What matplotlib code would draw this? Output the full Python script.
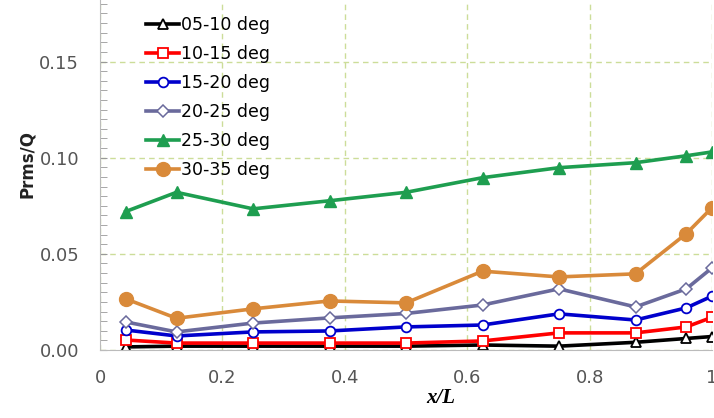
import numpy as np
import matplotlib.pyplot as plt
from matplotlib.ticker import MultipleLocator

# Posisi x/L
x = np.array([0.042, 0.125, 0.25, 0.375, 0.5, 0.625, 0.75, 0.875, 0.958, 1.0])

# Prms/Q tiap rentang sudut
p_05_10 = [0.0016, 0.0020, 0.0020, 0.0020, 0.0020, 0.0026, 0.0020, 0.0040, 0.0060, 0.0070]
p_10_15 = [0.0052, 0.0036, 0.0036, 0.0036, 0.0036, 0.0047, 0.0089, 0.0089, 0.0120, 0.0170]
p_15_20 = [0.0104, 0.0073, 0.0094, 0.0099, 0.0120, 0.0130, 0.0188, 0.0156, 0.0219, 0.0280]
p_20_25 = [0.0146, 0.0094, 0.0140, 0.0167, 0.0190, 0.0234, 0.0318, 0.0224, 0.0318, 0.0427]
p_25_30 = [0.0720, 0.0820, 0.0734, 0.0776, 0.0820, 0.0896, 0.0948, 0.0974, 0.1010, 0.1030]
p_30_35 = [0.0266, 0.0165, 0.0214, 0.0255, 0.0245, 0.0410, 0.0380, 0.0396, 0.0605, 0.0740]

labels = ['05-10 deg', '10-15 deg', '15-20 deg', '20-25 deg', '25-30 deg', '30-35 deg']

fig = plt.figure(figsize=(7.14, 4.18), dpi=100)
ax = fig.add_axes([100 / 714, 1 - 350 / 418, 612 / 714, 350 / 418])

lw = 2.6
ax.plot(x, p_05_10, '-^', color='black', lw=lw, ms=7, mfc='white', mew=1.3, label=labels[0])
ax.plot(x, p_10_15, '-s', color='#FF0000', lw=lw, ms=7, mfc='white', mew=1.3, label=labels[1])
ax.plot(x, p_15_20, '-o', color='#0000CC', lw=lw, ms=7, mfc='white', mew=1.3, label=labels[2])
ax.plot(x, p_20_25, '-D', color='#6A6A9C', lw=lw, ms=6, mfc='white', mew=1.1, label=labels[3])
ax.plot(x, p_25_30, '-^', color='#1E9E50', lw=lw, ms=8, label=labels[4])
ax.plot(x, p_30_35, '-o', color='#D98A3A', lw=lw, ms=10, label=labels[5])

ax.set_xlim(0, 1)
ax.set_ylim(0, 0.182)
ax.set_xticks([0, 0.2, 0.4, 0.6, 0.8, 1.0])
ax.set_xticklabels(['0', '0.2', '0.4', '0.6', '0.8', '1'])
ax.set_yticks([0, 0.05, 0.10, 0.15])
ax.set_yticklabels(['0.00', '0.05', '0.10', '0.15'])
ax.yaxis.set_minor_locator(MultipleLocator(0.005))
ax.tick_params(axis='both', labelsize=13, labelcolor='#555555', length=0)
ax.tick_params(axis='y', pad=15)
ax.tick_params(axis='x', pad=14)
ax.tick_params(axis='y', which='minor', direction='in', length=5, color='#999999')
ax.tick_params(axis='y', which='major', direction='in', length=5, color='#999999')

ax.grid(True, ls=(0, (4, 3)), color='#CCDD99', lw=1)
ax.set_axisbelow(True)
for s in ['top', 'right']:
    ax.spines[s].set_visible(False)
for s in ['left', 'bottom']:
    ax.spines[s].set_color('#BBBBBB')

ax.set_ylabel('Prms/Q', fontsize=12, fontweight='bold', color='#222222')
ax.yaxis.set_label_coords(-0.105, 0.53)
ax.set_xlabel('x/L', fontsize=15, fontweight='bold', fontstyle='italic',
              family='Liberation Serif')
ax.xaxis.set_label_coords((441 - 100) / 612, -38 / 350)

ax.legend(loc='upper left', bbox_to_anchor=(0.05, 1.0), frameon=False,
          fontsize=12.5, handlelength=1.9, handletextpad=0.1, labelspacing=0.64)

plt.savefig('out.png', dpi=100)
